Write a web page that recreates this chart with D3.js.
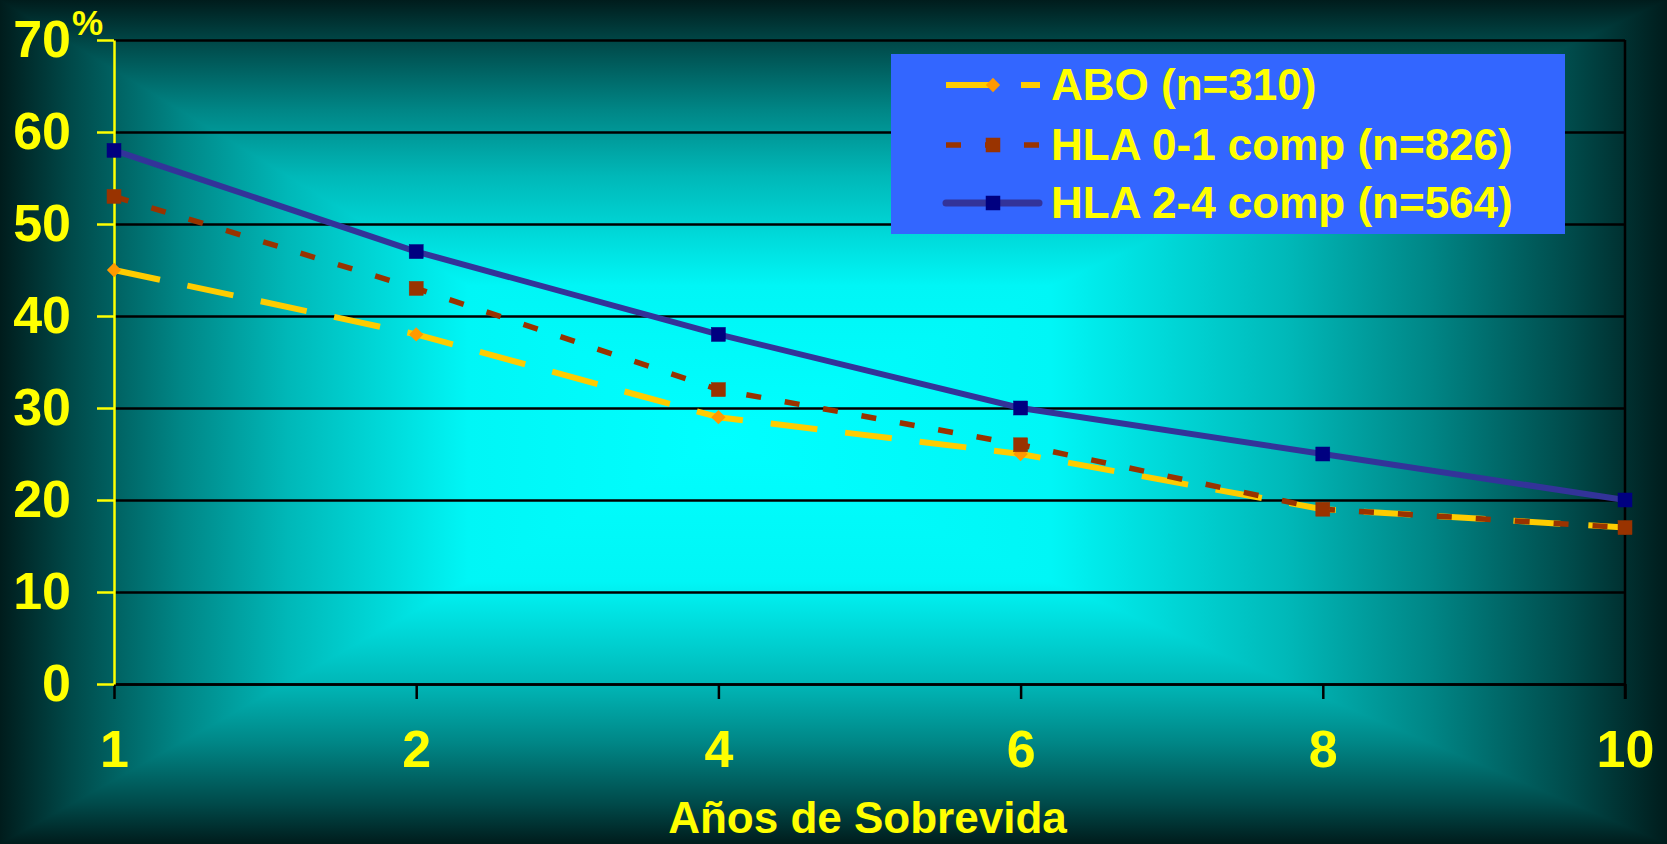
<!DOCTYPE html>
<html>
<head>
<meta charset="utf-8">
<script src="https://cdn.jsdelivr.net/npm/d3@7/dist/d3.min.js"></script>
<style>
  html, body { margin: 0; padding: 0; background: #002a2a; }
  svg { display: block; }
  text { font-family: "Liberation Sans", Arial, sans-serif; font-weight: bold; }
</style>
</head>
<body>
<svg id="chart" width="1667" height="844"></svg>
<script>
// ---- data ----
const categories = ["1", "2", "4", "6", "8", "10"];
const abo   = [45, 38, 29, 25, 19, 17];
const hla01 = [53, 43, 32, 26, 19, 17];
const hla24 = [58, 47, 38, 30, 25, 20];
const seriesNames = ["ABO (n=310)", "HLA 0-1 comp (n=826)", "HLA 2-4 comp (n=564)"];
const yTicks = [0, 10, 20, 30, 40, 50, 60, 70];
const xTitle = "Años de Sobrevida";
const yUnit = "%";

// ---- layout ----
const W = 1667, H = 844;
const pLeft = 114, pRight = 1625, pTop = 40, pBottom = 684;

const svg = d3.select("#chart");
const defs = svg.append("defs");

// background: rectangular "from centre" gradient built from four triangles
const cx = 720, cy = 440;
const stops = [
  [0, "#00ffff"], [0.35, "#00f6f6"], [0.6, "#00b8b8"],
  [0.75, "#008686"], [0.9, "#004a4a"], [1, "#001c1c"]
];
function grad(id, x1, y1, x2, y2) {
  const g = defs.append("linearGradient").attr("id", id)
    .attr("gradientUnits", "userSpaceOnUse")
    .attr("x1", x1).attr("y1", y1).attr("x2", x2).attr("y2", y2);
  stops.forEach(s => g.append("stop").attr("offset", s[0]).attr("stop-color", s[1]));
}
grad("gL", cx, 0, 0, 0);
grad("gR", cx, 0, W, 0);
grad("gT", 0, cy, 0, 0);
grad("gB", 0, cy, 0, H);
svg.append("rect").attr("width", W).attr("height", H).attr("fill", "#005a5a");
const bg = svg.append("g").attr("shape-rendering", "crispEdges");
bg.append("polygon").attr("points", `${cx},${cy} 0,0 0,${H}`).attr("fill", "url(#gL)");
bg.append("polygon").attr("points", `${cx},${cy} ${W},0 ${W},${H}`).attr("fill", "url(#gR)");
bg.append("polygon").attr("points", `${cx},${cy} 0,0 ${W},0`).attr("fill", "url(#gT)");
bg.append("polygon").attr("points", `${cx},${cy} 0,${H} ${W},${H}`).attr("fill", "url(#gB)");

// ---- scales ----
const x = d3.scalePoint().domain(categories).range([pLeft, pRight]);
const y = d3.scaleLinear().domain([0, 70]).range([pBottom, pTop]);

// gridlines
svg.append("g")
  .attr("transform", `translate(${pLeft},0)`)
  .call(d3.axisLeft(y).tickValues(yTicks).tickSize(-(pRight - pLeft)).tickFormat(""))
  .call(g => g.select(".domain").remove())
  .call(g => g.selectAll("line").attr("stroke", "#000").attr("stroke-width", 2.5));

// right border line
svg.append("line")
  .attr("x1", pRight).attr("x2", pRight).attr("y1", pTop).attr("y2", pBottom + 15)
  .attr("stroke", "#000").attr("stroke-width", 2.5);

// x axis
const xAxis = svg.append("g")
  .attr("transform", `translate(0,${pBottom})`)
  .call(d3.axisBottom(x).tickSize(15).tickSizeOuter(0).tickPadding(31));
xAxis.select(".domain").attr("stroke", "#000").attr("stroke-width", 2.5);
xAxis.selectAll("line").attr("stroke", "#000").attr("stroke-width", 2.5);
xAxis.selectAll("text").attr("fill", "#ffff00").attr("font-size", 52)
  .attr("font-family", "Liberation Sans, Arial, sans-serif").attr("font-weight", "bold");

// y axis
const yAxis = svg.append("g")
  .attr("transform", `translate(${pLeft},0)`)
  .call(d3.axisLeft(y).tickValues(yTicks).tickSize(17).tickSizeOuter(0).tickPadding(26));
yAxis.select(".domain").attr("stroke", "#ffff00").attr("stroke-width", 2.5);
yAxis.selectAll("line").attr("stroke", "#ffff00").attr("stroke-width", 2.5);
yAxis.selectAll("text").attr("fill", "#ffff00").attr("font-size", 52)
  .attr("font-family", "Liberation Sans, Arial, sans-serif").attr("font-weight", "bold");

// % unit
svg.append("text").attr("x", 72).attr("y", 35).attr("font-size", 35)
  .attr("font-weight", "normal").attr("fill", "#ffff00").text(yUnit);

// x title
svg.append("text").attr("x", (pLeft + pRight) / 2 - 2).attr("y", 833)
  .attr("text-anchor", "middle").attr("font-size", 44).attr("fill", "#ffff00").text(xTitle);

// ---- series ----
const series = [
  { name: seriesNames[0], values: abo,   color: "#ffcc00", width: 6,   dash: "47,28", marker: "diamond", mcolor: "#ff9900" },
  { name: seriesNames[1], values: hla01, color: "#993300", width: 5.5, dash: "15,24", marker: "square",  mcolor: "#993300" },
  { name: seriesNames[2], values: hla24, color: "#333399", width: 6,   dash: null,    marker: "square",  mcolor: "#000080" }
];

const line = d3.line().x((d, i) => x(categories[i])).y(d => y(d));

series.forEach(s => {
  svg.append("path")
    .attr("d", line(s.values))
    .attr("fill", "none")
    .attr("stroke", s.color)
    .attr("stroke-width", s.width)
    .attr("stroke-dasharray", s.dash)
    .attr("stroke-linejoin", "round");
});

function drawMarker(g, s, px, py) {
  if (s.marker === "diamond") {
    g.append("path")
      .attr("d", d3.symbol().type(d3.symbolDiamond2).size(130)())
      .attr("transform", `translate(${px},${py})`)
      .attr("fill", s.mcolor);
  } else {
    g.append("rect")
      .attr("x", px - 7).attr("y", py - 7).attr("width", 14).attr("height", 14)
      .attr("fill", s.mcolor).attr("stroke", s.mcolor).attr("stroke-width", 0.5);
  }
}

series.forEach(s => {
  const g = svg.append("g");
  s.values.forEach((v, i) => drawMarker(g, s, x(categories[i]), y(v)));
});

// ---- legend ----
const lg = svg.append("g");
lg.append("rect").attr("x", 891).attr("y", 54).attr("width", 674).attr("height", 180).attr("fill", "#3366ff");
const rowY = [85, 145, 203];
series.forEach((s, i) => {
  const yy = rowY[i];
  lg.append("line")
    .attr("x1", 946).attr("x2", s.dash ? 1040 : 1039)
    .attr("y1", yy).attr("y2", yy)
    .attr("stroke", s.color)
    .attr("stroke-width", s.dash ? s.width : 7)
    .attr("stroke-dasharray", s.dash)
    .attr("stroke-linecap", s.dash ? "butt" : "round");
  drawMarker(lg, s, 993, yy);
  lg.append("text").attr("x", 1051).attr("y", yy + 15)
    .attr("font-size", 44).attr("fill", "#ffff00").text(s.name);
});
</script>
</body>
</html>
